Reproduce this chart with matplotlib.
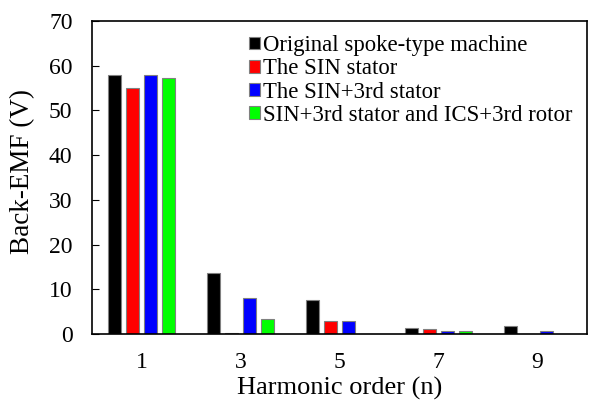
import matplotlib.pyplot as plt
import numpy as np

plt.rcParams['font.family'] = ['Liberation Serif', 'DejaVu Serif']

harmonics = ['1', '3', '5', '7', '9']
series_names = ['Original spoke-type machine', 'The SIN stator',
                'The SIN+3rd stator', 'SIN+3rd stator and ICS+3rd rotor']
original = [58.0, 13.6, 7.5, 1.4, 1.7]
sin_stator = [55.0, 0.3, 2.9, 1.05, 0.0]
sin3_stator = [58.0, 8.1, 2.8, 0.6, 0.7]
sin3_ics3 = [57.3, 3.4, 0.0, 0.75, 0.0]
colors = ['#000000', '#ff0000', '#0000ff', '#00ff00']

fig = plt.figure(figsize=(5.92, 4.05), dpi=100)
ax = fig.add_axes([92 / 592, 1 - 334 / 405, 495 / 592, 313 / 405])

x = np.arange(len(harmonics))
width = 0.14
step = 0.182
all_series = [original, sin_stator, sin3_stator, sin3_ics3]
for i, (vals, name, c) in enumerate(zip(all_series, series_names, colors)):
    offset = (i - 1.5) * step
    ax.bar(x + offset, vals, width, color=c, edgecolor='#808080',
           linewidth=0.8, label=name)

ax.set_xlim(-0.5, len(harmonics) - 0.5)
ax.set_ylim(0, 70)
ax.set_yticks(np.arange(0, 71, 10))
ax.set_xticks(x)
ax.set_xticklabels(harmonics)
ax.tick_params(axis='y', direction='in', length=5, labelsize=17, pad=14)
ax.tick_params(axis='x', length=0, labelsize=17, pad=13)
for s in ax.spines.values():
    s.set_linewidth(1.2)

ax.set_xlabel('Harmonic order (n)', fontsize=19, labelpad=3)
ax.set_ylabel('Back-EMF (V)', fontsize=19.5)
ax.yaxis.set_label_coords(-0.115, 0.52)

ax.legend(loc='upper left', fontsize=16.4, frameon=False, handlelength=0.48,
          handleheight=0.48, handletextpad=0.13, labelspacing=0.1,
          bbox_to_anchor=(0.318, 0.955), borderaxespad=0, borderpad=0)

fig.savefig('out.png', dpi=100)
